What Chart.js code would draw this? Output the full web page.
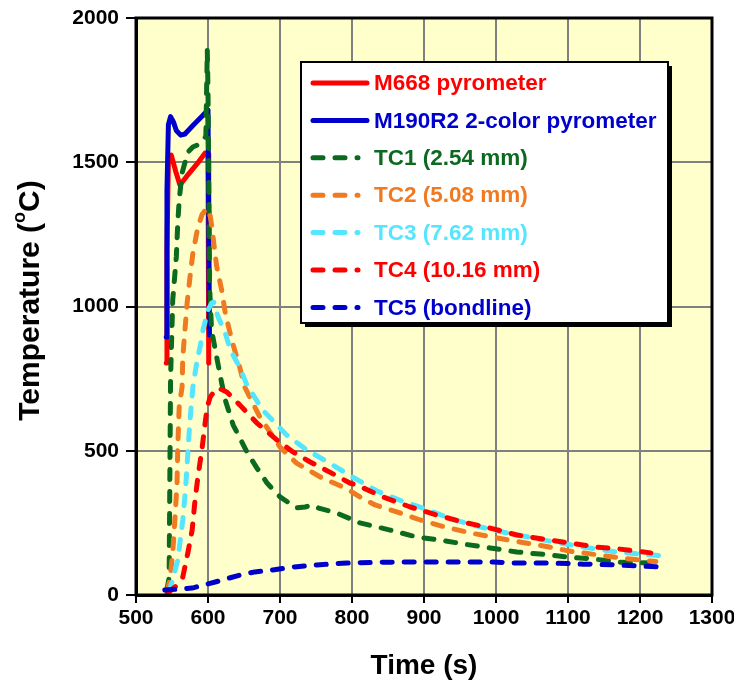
<!DOCTYPE html>
<html>
<head>
<meta charset="utf-8">
<script src="https://cdn.jsdelivr.net/npm/chart.js@4/dist/chart.umd.min.js"></script>
<style>
  html, body { margin: 0; padding: 0; background: #fff; }
  #wrap { width: 734px; height: 687px; }
</style>
</head>
<body>
<div id="wrap"><canvas id="tempChart" width="734" height="687"></canvas></div>
<script>
// Valores: tempo (s) e temperatura (°C)
const m668Time = [542, 543, 545, 549, 555, 561, 570, 585, 596, 600, 601];
const m668Temp = [804, 1200, 1500, 1525, 1470, 1421, 1450, 1495, 1532, 1528, 804];

const m190Time = [542, 543, 545, 548, 552, 556, 562, 568, 580, 592, 600, 602];
const m190Temp = [894, 1400, 1630, 1658, 1640, 1610, 1594, 1598, 1630, 1660, 1681, 901];

const tc1Time = [543, 546, 547, 548, 551, 556, 558, 560, 561, 564, 572, 579, 590, 597, 599, 600, 601, 602, 605, 612, 619, 624, 635, 654, 668, 682, 700, 723, 735, 744, 755, 779, 811, 853, 890, 922, 954, 992, 1029, 1061, 1099, 1135, 1170, 1214];
const tc1Temp = [20, 60, 400, 750, 1022, 1172, 1289, 1369, 1393, 1463, 1535, 1553, 1565, 1590, 1889, 1750, 1450, 1081, 918, 825, 735, 676, 589, 496, 440, 388, 340, 302, 305, 312, 300, 284, 250, 225, 201, 191, 177, 163, 149, 142, 132, 125, 114, 111];

const tc2Time = [543, 547, 551, 554, 557, 558, 560, 564, 565, 571, 575, 579, 586, 592, 598, 602, 606, 608, 612, 619, 624, 633, 644, 651, 672, 700, 723, 756, 793, 811, 832, 860, 895, 930, 965, 1000, 1035, 1070, 1107, 1145, 1180, 1222];
const tc2Temp = [10, 52, 146, 260, 388, 513, 652, 721, 825, 1012, 1102, 1185, 1276, 1320, 1340, 1330, 1265, 1220, 1140, 1057, 977, 884, 790, 721, 617, 513, 457, 409, 368, 340, 312, 290, 260, 235, 215, 198, 183, 168, 150, 138, 126, 116];

const tc3Time = [546, 550, 558, 565, 569, 572, 575, 579, 585, 589, 593, 600, 605, 608, 614, 624, 631, 644, 654, 676, 709, 737, 769, 800, 835, 870, 900, 940, 980, 1006, 1065, 1121, 1168, 1200, 1230];
const tc3Temp = [10, 45, 121, 260, 374, 492, 607, 721, 815, 860, 918, 988, 1012, 1015, 964, 908, 849, 790, 728, 641, 555, 503, 457, 410, 360, 325, 300, 262, 235, 220, 191, 166, 149, 142, 136];

const tc4Time = [544, 555, 565, 572, 578, 582, 586, 592, 596, 599, 603, 610, 614, 626, 644, 668, 696, 718, 742, 769, 797, 807, 843, 881, 918, 954, 992, 1029, 1065, 1103, 1140, 1172, 1215];
const tc4Temp = [7, 30, 62, 146, 225, 329, 409, 513, 596, 652, 686, 711, 718, 704, 659, 596, 537, 496, 461, 426, 388, 381, 340, 305, 277, 253, 232, 208, 194, 180, 166, 159, 146];

const tc5Time = [540, 578, 610, 644, 665, 690, 718, 751, 793, 857, 932, 996, 1029, 1075, 1121, 1168, 1228];
const tc5Temp = [17, 24, 45, 69, 80, 87, 97, 104, 111, 114, 114, 114, 111, 111, 107, 104, 97];

const FONT = "'Liberation Sans', Arial, sans-serif";

const pontos = (ts, vs) => ts.map((t, i) => ({ x: t, y: vs[i] }));

const serie = (label, ts, vs, color, dashed, order) => ({
  label,
  data: pontos(ts, vs),
  borderColor: color,
  backgroundColor: color,
  borderWidth: 5,
  borderDash: dashed ? [10, 12] : undefined,
  borderCapStyle: "round",
  borderJoinStyle: "round",
  pointRadius: 0,
  tension: 0,
  fill: false,
  order,
});

// fundo amarelo da área do gráfico
const plotBackground = {
  id: "plotBackground",
  beforeDraw(chart) {
    const { ctx, chartArea: a } = chart;
    ctx.save();
    ctx.fillStyle = "#FFFFCC";
    ctx.fillRect(a.left, a.top, a.right - a.left, a.bottom - a.top);
    ctx.restore();
  },
};

// moldura, título do eixo Y e legenda em caixa
const frameAndLegend = {
  id: "frameAndLegend",
  afterDatasetsDraw(chart) {
    const { ctx, chartArea: a } = chart;
    ctx.save();
    ctx.strokeStyle = "#000";
    ctx.lineWidth = 3;
    ctx.strokeRect(a.left, a.top, a.right - a.left, a.bottom - a.top);

    // título Y com "o" sobrescrito
    ctx.translate(31, (a.top + a.bottom) / 2 - 6);
    ctx.rotate(-Math.PI / 2);
    ctx.fillStyle = "#000";
    ctx.textBaseline = "middle";
    const big = `bold 30px ${FONT}`;
    const small = `bold 18px ${FONT}`;
    ctx.font = big;
    const w1 = ctx.measureText("Temperature (").width;
    const w3 = ctx.measureText("C)").width;
    ctx.font = small;
    const w2 = ctx.measureText("o").width;
    let x = -(w1 + w2 + w3) / 2;
    ctx.font = big;
    ctx.fillText("Temperature (", x, 0);
    x += w1;
    ctx.font = small;
    ctx.fillText("o", x, -11);
    x += w2;
    ctx.font = big;
    ctx.fillText("C)", x, 0);
    ctx.setTransform(1, 0, 0, 1, 0, 0);

    const bx = a.left + 165, by = a.top + 44, bw = 367, bh = 261;
    ctx.fillStyle = "#000";
    ctx.fillRect(bx + 4, by + 4, bw, bh);
    ctx.fillStyle = "#fff";
    ctx.fillRect(bx, by, bw, bh);
    ctx.lineWidth = 2;
    ctx.strokeRect(bx, by, bw, bh);

    chart.data.datasets.forEach((ds, i) => {
      const y = by + 21 + i * 37.4;
      ctx.strokeStyle = ds.borderColor;
      ctx.lineWidth = 5;
      ctx.lineCap = "round";
      ctx.setLineDash(ds.borderDash || []);
      ctx.beginPath();
      ctx.moveTo(bx + 12, y);
      ctx.lineTo(bx + (ds.borderDash ? 57 : 66), y);
      ctx.stroke();
      ctx.setLineDash([]);
      ctx.fillStyle = ds.borderColor;
      ctx.font = `bold 22.5px ${FONT}`;
      ctx.textBaseline = "middle";
      ctx.fillText(ds.label, bx + 73, y + 1);
    });
    ctx.restore();
  },
};

const semVirgula = (v) => String(v);

const ctx = document.getElementById("tempChart").getContext("2d");
new Chart(ctx, {
  type: "line",
  data: {
    datasets: [
      serie("M668 pyrometer", m668Time, m668Temp, "#FF0000", false, 7),
      serie("M190R2 2-color pyrometer", m190Time, m190Temp, "#0000CC", false, 6),
      serie("TC1 (2.54 mm)", tc1Time, tc1Temp, "#0B6A1F", true, 5),
      serie("TC2 (5.08 mm)", tc2Time, tc2Temp, "#F07A22", true, 4),
      serie("TC3 (7.62 mm)", tc3Time, tc3Temp, "#55E6FF", true, 3),
      serie("TC4 (10.16 mm)", tc4Time, tc4Temp, "#FF0000", true, 2),
      serie("TC5 (bondline)", tc5Time, tc5Temp, "#0000CC", true, 1),
    ],
  },
  options: {
    responsive: false,
    animation: false,
    layout: { padding: { top: 18, right: 22, left: 0, bottom: 0 } },
    plugins: { legend: { display: false }, tooltip: { enabled: false } },
    scales: {
      x: {
        type: "linear",
        min: 500,
        max: 1300,
        ticks: { stepSize: 100, color: "#000", padding: 3, callback: semVirgula, font: { family: FONT, size: 21, weight: "bold" } },
        grid: { color: "#808080", lineWidth: 2, tickColor: "#000", tickLength: 8, tickWidth: 2 },
        border: { color: "#000", width: 3 },
        title: { display: true, text: "Time (s)", color: "#000", padding: { top: 0, bottom: 4 }, font: { family: FONT, size: 28, weight: "bold" } },
        afterFit: (s) => { s.height = 92; s.paddingLeft = 0; s.paddingRight = 0; },
      },
      y: {
        min: 0,
        max: 2000,
        ticks: { stepSize: 500, color: "#000", padding: 7, callback: semVirgula, font: { family: FONT, size: 21, weight: "bold" } },
        grid: { color: "#808080", lineWidth: 2, tickColor: "#000", tickLength: 10, tickWidth: 2 },
        border: { color: "#000", width: 3 },
        afterFit: (s) => { s.width = 136; s.paddingTop = 0; s.paddingBottom = 0; },
      },
    },
  },
  plugins: [plotBackground, frameAndLegend],
});
</script>
</body>
</html>
